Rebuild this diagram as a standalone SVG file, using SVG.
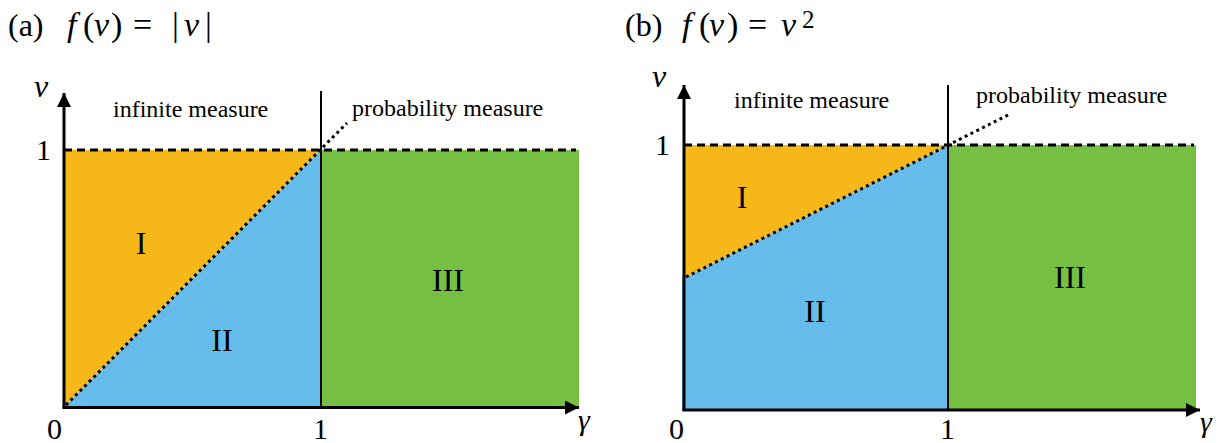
<svg xmlns="http://www.w3.org/2000/svg" width="1220" height="443" viewBox="0 0 1220 443">
<defs>
<marker id="arr" markerUnits="userSpaceOnUse" markerWidth="14" markerHeight="14" refX="14" refY="7" orient="auto">
<path d="M0,0 L14,7 L0,14 z" fill="#000"/>
</marker>
<style>
text{font-family:"Liberation Serif","Times New Roman",serif;fill:#000}
.t{font-size:32px}
.m{font-size:34px}
.it{font-style:italic}
.lab{font-size:24px}
.ax{font-size:30px}
.reg{font-size:32px;text-anchor:middle}
.axis{stroke:#000;stroke-width:3;fill:none;marker-end:url(#arr)}
.vline{stroke:#000;stroke-width:2;fill:none}
.dash{stroke:#000;stroke-width:3;stroke-dasharray:8 5;fill:none}
.dot{stroke:#000;stroke-width:3;stroke-dasharray:3 3.5;fill:none}
.or{fill:#F6B819}
.bl{fill:#65BBE9}
.gr{fill:#75BF43}
</style>
</defs>

<g id="panel-a">
<text class="t" x="8" y="36">(a)</text>
<text class="m" y="36"><tspan class="it" x="67">f</tspan><tspan x="83">(</tspan><tspan class="it" x="94">v</tspan><tspan x="111">)</tspan><tspan x="133">=</tspan><tspan x="172">|</tspan><tspan class="it" x="184">v</tspan><tspan x="205">|</tspan></text>
<polygon class="or" points="64,150 321,150 64,407"/>
<polygon class="bl" points="64,407 321,150 321,407"/>
<rect class="gr" x="321" y="150" width="258" height="257"/>
<line class="vline" x1="321" y1="91" x2="321" y2="407"/>
<line class="dash" x1="64" y1="150" x2="576" y2="150"/>
<line class="dot" x1="66" y1="405" x2="347" y2="123"/>
<line class="axis" x1="64" y1="408" x2="64" y2="93"/>
<line class="axis" x1="62.5" y1="407.5" x2="579" y2="407.5"/>
<text class="ax it" x="34" y="97" style="font-size:32px">ν</text>
<text class="ax" x="36" y="160">1</text>
<text class="ax" x="47" y="439">0</text>
<text class="ax" x="313" y="439">1</text>
<text class="ax it" x="578" y="430">γ</text>
<text class="lab" x="113" y="117">infinite measure</text>
<text class="lab" x="352" y="116">probability measure</text>
<text class="reg" x="141" y="254">I</text>
<text class="reg" x="222" y="351">II</text>
<text class="reg" x="448" y="291">III</text>
</g>

<g id="panel-b">
<text class="t" x="625" y="36">(b)</text>
<text class="m" y="36"><tspan class="it" x="682">f</tspan><tspan x="699">(</tspan><tspan class="it" x="709">v</tspan><tspan x="727">)</tspan><tspan x="748">=</tspan><tspan class="it" x="781">v</tspan><tspan x="802" y="28" style="font-size:25px">2</tspan></text>
<polygon class="or" points="684,145 948,145 684,278"/>
<polygon class="bl" points="682,275 684,278 948,145 948,410 682,410"/>
<rect class="gr" x="948" y="145" width="248" height="265"/>
<line class="vline" x1="948" y1="85" x2="948" y2="410"/>
<line class="dash" x1="684" y1="145" x2="1194" y2="145"/>
<line class="dot" x1="686" y1="277" x2="1010" y2="114"/>
<line class="axis" x1="684" y1="411" x2="684" y2="85"/>
<line class="axis" x1="682.5" y1="410" x2="1200" y2="410"/>
<text class="ax it" x="652" y="87" style="font-size:32px">ν</text>
<text class="ax" x="655" y="155">1</text>
<text class="ax" x="669" y="439">0</text>
<text class="ax" x="940" y="439">1</text>
<text class="ax it" x="1200" y="432">γ</text>
<text class="lab" x="734" y="108">infinite measure</text>
<text class="lab" x="976" y="103">probability measure</text>
<text class="reg" x="742" y="208">I</text>
<text class="reg" x="815" y="322">II</text>
<text class="reg" x="1070" y="288">III</text>
</g>
</svg>
